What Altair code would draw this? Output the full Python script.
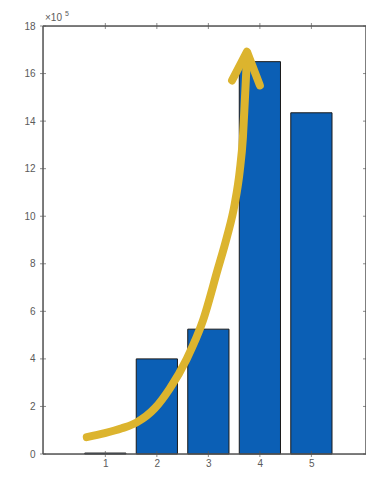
import altair as alt
import pandas as pd

# Bar data (values in units of 10^5)
categories = [1, 2, 3, 4, 5]
values = [0.04, 4.0, 5.25, 16.5, 14.35]

# Hand-drawn yellow arrow (data coords)
arrow_x = [0.64, 0.99, 1.32, 1.61, 1.96, 2.25, 2.58, 2.89, 3.18, 3.36, 3.51, 3.61, 3.67, 3.71, 3.75]
arrow_y = [0.71, 0.875, 1.08, 1.33, 1.92, 2.75, 4.0, 5.58, 7.75, 9.125, 10.5, 11.92, 13.29, 14.96, 16.71]
head_x = [3.46, 3.75, 4.0]
head_y = [15.71, 16.92, 15.5]

y_ticks = [0, 2, 4, 6, 8, 10, 12, 14, 16, 18]
x_ticks = [1, 2, 3, 4, 5]

XDOM = [-0.21, 6.06]
YDOM = [0, 18]
W, H = 323, 428

bars = pd.DataFrame({"x": categories, "v": values})
bars["x0"] = bars["x"] - 0.4
bars["x1"] = bars["x"] + 0.4

arrow = pd.DataFrame({"x": arrow_x, "y": arrow_y, "o": range(len(arrow_x))})
head = pd.DataFrame({"x": head_x, "y": head_y, "o": range(len(head_x))})

xs = alt.Scale(domain=XDOM, nice=False, zero=False)
ys = alt.Scale(domain=YDOM, nice=False)

label_color = "#5a5a5a"
FONT = "Liberation Sans"

bar_layer = alt.Chart(bars).mark_bar(
    color="#0b5fb5", stroke="#1a1a1a", strokeWidth=1
).encode(
    x=alt.X("x0:Q", scale=xs, axis=alt.Axis(
        values=x_ticks, format="d", title=None, grid=False, ticks=False, domain=False,
        labelColor=label_color, labelFontSize=10, labelPadding=4, labelFont=FONT)),
    x2="x1:Q",
    y=alt.Y("v:Q", scale=ys, axis=alt.Axis(
        values=y_ticks, format="d", title=None, grid=False, ticks=False, domain=False,
        labelColor=label_color, labelFontSize=10, labelPadding=8, labelFont=FONT)),
    y2=alt.datum(0),
)

tickdf_y = pd.DataFrame({"t": y_ticks})
tickdf_x = pd.DataFrame({"t": x_ticks})

left_ticks = alt.Chart(tickdf_y).mark_tick(color=label_color, orient="horizontal", size=6, thickness=1).encode(
    y=alt.Y("t:Q", scale=ys), x=alt.value(0))
right_ticks = alt.Chart(tickdf_y).mark_tick(color=label_color, orient="horizontal", size=6, thickness=1).encode(
    y=alt.Y("t:Q", scale=ys), x=alt.value(W))
bottom_ticks = alt.Chart(tickdf_x).mark_tick(color=label_color, orient="vertical", size=6, thickness=1).encode(
    x=alt.X("t:Q", scale=xs), y=alt.value(H))
top_ticks = alt.Chart(tickdf_x).mark_tick(color=label_color, orient="vertical", size=6, thickness=1).encode(
    x=alt.X("t:Q", scale=xs), y=alt.value(0))

# frame (box) lines
frame = pd.DataFrame({"a": [0]})
frame_left = alt.Chart(frame).mark_rule(color="#555555", strokeWidth=1.5).encode(
    x=alt.value(0), y=alt.value(0), y2=alt.value(H))
frame_right = alt.Chart(frame).mark_rule(color="#555555", strokeWidth=1.5).encode(
    x=alt.value(W), y=alt.value(0), y2=alt.value(H))
frame_top = alt.Chart(frame).mark_rule(color="#555555", strokeWidth=1.5).encode(
    x=alt.value(0), x2=alt.value(W), y=alt.value(0))
frame_bottom = alt.Chart(frame).mark_rule(color="#555555", strokeWidth=1.5).encode(
    x=alt.value(0), x2=alt.value(W), y=alt.value(H))

arrow_layer = alt.Chart(arrow).mark_line(
    color="#dcb42e", strokeWidth=8, strokeCap="round", strokeJoin="round", interpolate="monotone"
).encode(x=alt.X("x:Q", scale=xs), y=alt.Y("y:Q", scale=ys), order="o:Q")

head_layer = alt.Chart(head).mark_line(
    color="#dcb42e", strokeWidth=8, strokeCap="round", strokeJoin="round"
).encode(x=alt.X("x:Q", scale=xs), y=alt.Y("y:Q", scale=ys), order="o:Q")

exp_base = alt.Chart(pd.DataFrame({"t": ["×10"]})).mark_text(
    align="left", baseline="bottom", fontSize=10, color=label_color, font=FONT
).encode(text="t:N", x=alt.value(2), y=alt.value(-3))
exp_sup = alt.Chart(pd.DataFrame({"t": ["5"]})).mark_text(
    align="left", baseline="bottom", fontSize=7, color=label_color, font=FONT
).encode(text="t:N", x=alt.value(22), y=alt.value(-9))

chart = alt.layer(
    bar_layer, left_ticks, right_ticks, bottom_ticks, top_ticks,
    frame_left, frame_right, frame_top, frame_bottom,
    arrow_layer, head_layer, exp_base, exp_sup
).properties(
    width=W, height=H,
    autosize=alt.AutoSizeParams(type="none"),
    padding={"left": 35, "top": 18, "right": 0, "bottom": 14},
).configure_view(strokeWidth=0).configure(background="white")

chart.save("out.html", embed_options={"renderer": "svg", "actions": False})
